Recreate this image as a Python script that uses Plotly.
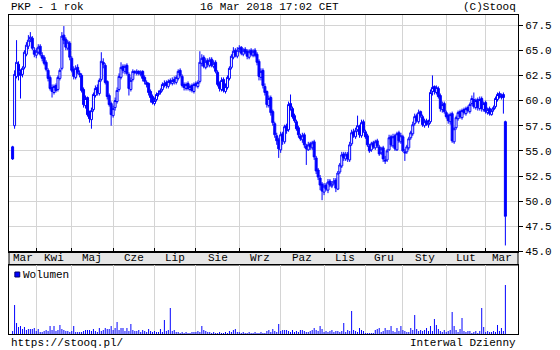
import plotly.graph_objects as go
import pandas as pd

# ---------------- data ----------------
month_labels = ["Mar", "Kwi", "Maj", "Cze", "Lip", "Sie", "Wrz", "Paz", "Lis", "Gru", "Sty", "Lut", "Mar"]
price_ticks = [45.0, 47.5, 50.0, 52.5, 55.0, 57.5, 60.0, 62.5, 65.0, 67.5]
holidays = ["2017-04-14", "2017-04-17", "2017-05-01", "2017-05-03", "2017-06-15",
            "2017-08-15", "2017-11-01", "2017-12-25", "2017-12-26", "2018-01-01"]

opens = [55.4,57.5,62.4,63.6,62.8,62.6,63.3,64.6,65.4,66.1,66.2,65.0,
64.5,64.8,65.4,64.5,64.3,63.8,63.0,62.3,61.3,60.8,61.5,61.1,62.2,63.2,66.5,66.1,65.2,65.7,
64.2,63.1,62.3,63.3,62.7,62.5,61.1,59.5,60.3,58.7,58.1,59.1,60.5,61.3,60.7,62.1,63.8,63.5,61.9,60.5,59.7,
58.5,59.3,59.9,61.1,62.3,63.4,62.9,63.5,62.6,61.1,62.1,62.9,62.7,62.9,62.6,62.9,62.3,61.8,61.7,60.9,60.4,
59.7,60.1,60.6,60.8,61.1,61.5,61.8,61.4,62.0,61.7,62.1,61.8,62.2,63.0,62.4,61.6,61.2,61.7,61.1,61.5,60.9,
61.7,61.4,61.9,63.7,64.3,63.3,64.0,63.5,64.1,63.4,63.8,62.8,61.7,61.1,62.1,60.9,61.3,62.2,63.3,64.3,65.0,64.4,
65.1,65.3,64.6,65.1,64.9,64.3,65.0,64.5,65.0,64.6,63.9,62.3,63.0,61.4,60.9,59.5,60.3,58.9,57.7,56.5,56.1,
55.1,56.7,55.9,57.5,57.1,59.7,59.2,58.5,57.9,57.3,56.5,56.1,56.6,55.5,55.1,55.7,55.3,55.9,54.3,53.1,52.3,51.7,
50.9,51.6,51.1,52.0,51.5,51.8,52.1,51.2,52.9,53.5,54.7,54.2,54.7,54.1,55.7,56.9,56.4,57.1,57.4,56.5,57.9,
56.9,56.5,55.5,55.1,55.8,55.3,56.0,55.4,54.8,55.3,54.1,54.1,55.1,56.4,55.5,56.5,55.1,56.8,55.9,
56.4,54.9,54.9,55.3,56.3,56.7,57.7,58.5,57.9,58.9,58.4,57.5,58.0,57.6,57.9,60.9,61.4,60.8,61.2,60.5,59.1,59.7,
58.8,58.5,57.9,58.7,55.9,57.3,58.2,58.9,58.3,59.1,58.7,59.3,58.9,59.7,60.1,59.3,60.1,59.2,60.2,59.1,
59.8,58.8,59.2,58.6,59.1,59.4,60.1,60.7,60.3,60.6,57.9]

highs = [55.5,63.0,66.0,63.9,63.1,63.4,65.0,65.8,66.5,66.8,66.4,65.3,
65.2,65.6,65.6,64.8,64.5,64.0,63.2,62.5,61.6,61.6,61.7,62.5,63.2,66.8,67.4,66.3,66.0,65.9,
64.4,63.4,63.5,63.6,63.0,62.7,61.3,60.5,60.4,59.0,59.3,60.8,61.5,61.6,62.2,64.8,64.2,63.7,62.0,60.7,59.9,
59.5,60.3,61.3,62.7,63.8,63.6,63.6,63.7,62.8,62.3,63.1,63.0,63.1,63.0,63.0,63.0,62.5,62.0,61.8,61.1,60.6,
60.3,60.8,61.0,61.2,61.8,62.0,62.0,62.1,62.2,62.3,62.4,62.5,63.1,63.2,62.6,61.8,61.8,61.9,61.6,61.7,61.8,
61.9,62.0,64.9,64.6,64.5,64.2,64.2,64.3,64.3,64.0,64.0,63.0,61.9,62.3,62.3,61.7,62.5,63.4,64.6,65.3,65.2,65.3,
65.5,65.4,65.2,65.3,65.1,65.1,65.2,65.1,65.2,64.8,64.1,63.2,63.2,61.7,61.0,60.5,60.5,59.1,57.9,56.8,56.3,
56.9,56.9,57.6,57.7,59.9,60.6,59.4,58.7,58.1,57.5,56.7,56.8,56.8,55.7,55.9,55.9,56.0,56.1,54.5,53.3,52.6,51.9,
51.8,51.8,52.2,52.2,52.0,52.3,52.3,53.0,53.8,54.9,54.9,54.9,54.9,55.9,57.1,57.2,57.3,58.5,57.6,58.1,58.1,
57.1,56.7,55.7,55.9,56.0,56.1,56.2,55.6,55.4,55.5,54.5,55.2,56.6,56.6,56.7,56.7,56.9,57.0,56.8,
56.6,55.2,55.6,56.4,57.0,57.9,58.7,58.7,59.1,59.0,58.6,58.2,58.2,58.1,61.1,62.5,61.5,61.5,61.4,60.7,59.9,59.9,
59.0,58.7,58.8,58.9,57.4,58.5,59.0,59.1,59.2,59.3,59.4,59.5,59.8,60.5,60.8,60.2,60.3,60.4,60.4,59.9,
60.0,59.3,59.4,59.2,59.5,60.4,60.8,60.9,60.7,60.8,58.0]

lows = [54.1,57.2,62.2,62.0,60.2,62.3,63.1,64.4,65.1,65.8,65.0,64.3,
64.2,64.6,64.4,63.9,63.5,62.9,61.9,61.0,60.3,60.6,60.8,60.9,62.0,63.0,65.6,65.0,65.0,64.0,
62.8,62.1,62.1,62.6,62.3,60.8,59.3,59.2,58.4,57.8,57.2,58.9,60.3,60.5,60.5,61.9,63.2,61.6,60.1,59.4,57.5,
58.3,59.0,59.7,60.9,62.1,62.7,62.6,62.5,60.5,60.9,61.9,62.6,62.5,62.5,62.4,61.9,61.6,61.3,60.5,59.8,59.6,
59.5,59.9,60.4,60.6,60.9,61.3,61.2,61.2,61.6,61.5,61.6,61.6,62.0,62.3,61.3,61.0,61.0,61.0,60.9,60.8,60.7,
61.3,61.2,61.7,63.4,63.2,63.1,63.3,63.3,63.3,63.2,62.7,61.4,60.9,60.9,60.8,60.7,61.1,62.0,63.1,64.1,64.3,64.2,
64.8,64.5,64.4,64.6,64.1,64.1,64.4,64.3,64.3,63.5,62.0,62.0,61.2,60.5,59.3,59.3,58.5,57.5,56.3,55.6,54.3,
54.8,55.6,55.7,56.7,56.9,59.0,58.2,57.8,57.0,56.3,56.0,55.8,55.3,53.6,55.0,55.1,55.1,54.1,52.7,52.1,51.1,50.1,
50.6,51.0,50.8,51.4,51.3,51.6,50.9,51.1,52.7,53.3,54.0,54.0,53.9,53.9,55.5,56.3,56.2,56.9,56.3,56.3,56.8,
56.2,55.4,54.8,54.9,55.2,55.1,55.3,54.5,54.6,53.9,53.7,53.9,55.0,55.4,55.3,55.0,55.0,55.8,55.7,
54.9,54.0,54.7,55.1,56.1,56.5,57.5,57.8,57.7,58.3,57.4,57.3,57.5,57.3,57.7,60.5,60.6,60.6,60.2,58.9,58.8,58.7,
58.2,57.7,57.6,55.8,55.7,57.1,58.0,58.2,58.1,58.6,58.5,58.8,58.7,59.5,59.2,59.1,59.0,59.0,58.9,58.9,
58.7,58.6,58.5,58.5,58.9,59.2,59.9,60.2,60.1,58.7,45.6]

closes = [54.2,62.6,63.8,62.9,62.5,63.2,64.8,65.5,66.0,66.3,65.2,64.6,
64.9,65.3,64.6,64.2,63.7,63.1,62.2,61.2,60.9,61.4,61.0,62.3,63.0,66.4,66.0,65.3,65.8,64.3,
63.0,62.4,63.2,62.8,62.6,61.0,59.6,60.2,58.6,58.2,59.0,60.6,61.2,60.8,62.0,63.9,63.6,61.8,60.4,59.6,58.6,
59.2,60.0,61.0,62.4,63.3,63.0,63.4,62.7,61.2,62.0,62.9,62.8,62.9,62.7,62.8,62.2,61.9,61.6,60.8,60.3,59.8,
60.0,60.6,60.7,61.0,61.6,61.7,61.5,61.9,61.8,62.0,61.9,62.3,62.9,62.5,61.5,61.3,61.6,61.2,61.4,61.0,61.6,
61.5,61.8,63.8,64.2,63.4,63.9,63.6,64.0,63.5,63.7,62.9,61.6,61.2,62.0,61.0,61.4,62.3,63.2,64.4,64.9,64.5,65.0,
65.2,64.7,65.0,64.8,64.4,64.9,64.6,64.9,64.5,63.8,62.4,62.9,61.5,60.8,59.6,60.2,58.8,57.8,56.6,56.0,55.2,
56.6,56.0,57.4,57.0,59.6,59.3,58.4,58.0,57.2,56.6,56.2,56.5,55.6,55.2,55.6,55.4,55.8,54.4,53.0,52.4,51.6,51.0,
51.5,51.2,51.9,51.6,51.7,52.0,51.3,52.8,53.6,54.6,54.3,54.6,54.2,55.6,56.8,56.5,57.0,57.5,56.6,57.8,57.0,
56.4,55.6,55.0,55.7,55.4,55.9,55.5,54.7,55.2,54.2,54.0,55.0,56.3,55.6,56.4,55.2,56.7,56.0,56.5,
55.0,54.8,55.4,56.2,56.8,57.6,58.4,58.0,58.8,58.5,57.6,57.9,57.7,57.8,60.8,61.3,60.9,61.3,60.4,59.2,59.6,58.9,
58.4,58.0,58.6,56.0,57.2,58.3,58.8,58.4,59.0,58.8,59.2,59.0,59.6,60.2,59.4,60.0,59.3,60.1,59.2,59.7,
58.9,59.1,58.7,59.0,59.3,60.2,60.6,60.4,60.5,60.3,48.5]

volumes = [30,290,110,70,80,50,70,40,50,50,50,60,
30,50,20,20,30,40,30,80,40,80,30,40,90,50,40,30,30,20,
30,80,20,20,20,20,30,40,40,40,30,50,30,20,60,30,40,60,50,50,80,
40,60,120,40,60,60,30,60,30,100,40,30,30,40,20,40,30,20,50,30,20,
30,20,20,50,20,140,30,40,260,30,40,20,20,10,20,10,20,10,10,20,20,
20,30,20,80,40,30,20,20,10,20,10,10,20,10,10,20,10,30,20,40,50,20,
20,10,20,10,10,20,10,10,20,10,10,20,10,10,30,40,20,50,30,20,100,
30,40,40,40,30,20,40,20,30,20,40,40,30,20,20,30,40,60,40,30,80,50,
20,30,20,30,40,20,30,30,20,30,110,20,40,30,230,40,30,20,60,40,30,
10,10,10,10,10,40,50,60,20,30,60,40,40,80,30,20,60,30,80,
40,30,20,20,60,40,190,50,30,40,30,40,60,30,80,30,150,90,50,30,20,40,
20,30,40,220,80,40,20,50,160,30,20,30,30,10,20,30,10,30,260,70,
20,30,20,20,30,20,90,30,60,30,490]

# ---------------- geometry ----------------
W, H = 560, 350
ML, MR, MT, MB = 8, 31, 15, 16
PW, PH = W - ML - MR, H - MT - MB

days = pd.bdate_range("2017-03-16", "2018-03-16")
days = days[~days.isin(pd.to_datetime(holidays))]
n = min(len(days), len(closes))
idx = list(range(n))
bounds = [i for i in range(1, n) if days[i].month != days[i - 1].month]

ppd = 2.0175       # pixels per trading day
x0px = 11.7        # pixel of first candle
xr = [(ML - x0px) / ppd, (W - MR - x0px) / ppd]

def py(px):  # pixel y -> paper y
    return (H - MB - px) / PH

def pxp(px):  # pixel x -> paper x
    return (px - ML) / PW

price_dom = [py(251.5), 1.0]
vol_dom = [0.0, py(265)]

BLUE = "#0000ff"
GRID = "#d4d4d4"
FONT = dict(family="Liberation Mono, Courier New, monospace", size=11, color="black")

fig = go.Figure()
fig.add_trace(go.Candlestick(
    x=idx, open=opens[:n], high=highs[:n], low=lows[:n], close=closes[:n],
    increasing=dict(line=dict(color=BLUE, width=1), fillcolor="white"),
    decreasing=dict(line=dict(color=BLUE, width=1), fillcolor=BLUE),
    whiskerwidth=0, xaxis="x", yaxis="y", showlegend=False, hoverinfo="skip"))
fig.add_trace(go.Bar(
    x=idx, y=volumes[:n], marker=dict(color=BLUE, line=dict(width=0)), width=0.5,
    xaxis="x2", yaxis="y2", showlegend=False, hoverinfo="skip"))

vmax = max(volumes)
fig.update_layout(
    width=W, height=H, autosize=False,
    margin=dict(l=ML, r=MR, t=MT, b=MB, pad=0),
    paper_bgcolor="white", plot_bgcolor="white",
    font=FONT, boxgap=0.0, boxgroupgap=0.0,
    xaxis=dict(domain=[0, 1], range=xr, anchor="y", tickmode="array", tickvals=bounds,
               showticklabels=False, ticks="inside", ticklen=4, tickcolor="black",
               showgrid=True, gridcolor=GRID, gridwidth=1, zeroline=False,
               showline=True, linecolor="black", linewidth=1, mirror=True,
               rangeslider=dict(visible=False), fixedrange=True),
    yaxis=dict(domain=price_dom, range=[45, 68.5], side="right", anchor="x",
               tickmode="array", tickvals=price_ticks,
               ticktext=[f"{v:.1f}" for v in price_ticks],
               ticks="outside", ticklen=4, tickcolor="black", tickfont=FONT,
               showgrid=True, gridcolor=GRID, gridwidth=1, zeroline=False,
               showline=True, linecolor="black", linewidth=1, mirror=True, fixedrange=True),
    xaxis2=dict(domain=[0, 1], range=xr, anchor="y2", tickmode="array", tickvals=bounds,
                showticklabels=False, ticks="", showgrid=True, gridcolor=GRID, gridwidth=1,
                zeroline=False, showline=True, linecolor="black", linewidth=1, mirror=True,
                fixedrange=True),
    yaxis2=dict(domain=vol_dom, range=[0, vmax * 69 / 49], anchor="x2", side="right",
                showticklabels=False, ticks="", showgrid=False, zeroline=False,
                showline=True, linecolor="black", linewidth=1, mirror=True, fixedrange=True),
)

shapes = [dict(type="rect", xref="paper", yref="paper", x0=0, x1=1,
               y0=vol_dom[1], y1=price_dom[0], fillcolor="#e6e6e6",
               line=dict(color="black", width=1), layer="below"),
          dict(type="rect", xref="paper", yref="paper",
               x0=pxp(14), x1=pxp(19), y0=py(277), y1=py(272),
               fillcolor=BLUE, line=dict(color="#000066", width=1))]
fig.update_layout(shapes=shapes)

anns = []
edges = [xr[0]] + bounds + [xr[1]]
band_y = (vol_dom[1] + price_dom[0]) / 2
for k, lab in enumerate(month_labels):
    if k + 1 >= len(edges):
        break
    anns.append(dict(x=(edges[k] + edges[k + 1]) / 2, xref="x", y=band_y, yref="paper",
                     text=lab, showarrow=False, font=FONT, xanchor="center", yanchor="middle"))
anns += [
    dict(x=0, xref="paper", y=py(7), yref="paper", text="PKP - 1 rok", showarrow=False,
         font=FONT, xanchor="left", yanchor="middle"),
    dict(x=pxp(275), xref="paper", y=py(7), yref="paper", text="16 Mar 2018 17:02 CET",
         showarrow=False, font=FONT, xanchor="center", yanchor="middle"),
    dict(x=1, xref="paper", y=py(7), yref="paper", text="(C)Stooq", showarrow=False,
         font=FONT, xanchor="right", yanchor="middle"),
    dict(x=0, xref="paper", y=py(343), yref="paper", text="https://stooq.pl/", showarrow=False,
         font=FONT, xanchor="left", yanchor="middle"),
    dict(x=1, xref="paper", y=py(343), yref="paper", text="Interwal Dzienny", showarrow=False,
         font=FONT, xanchor="right", yanchor="middle"),
    dict(x=pxp(20), xref="paper", y=py(274.5), yref="paper", text="Wolumen", showarrow=False,
         font=FONT, xanchor="left", yanchor="middle"),
]
fig.update_layout(annotations=anns)

fig.write_html("out.html", config={"displayModeBar": False, "staticPlot": True})
